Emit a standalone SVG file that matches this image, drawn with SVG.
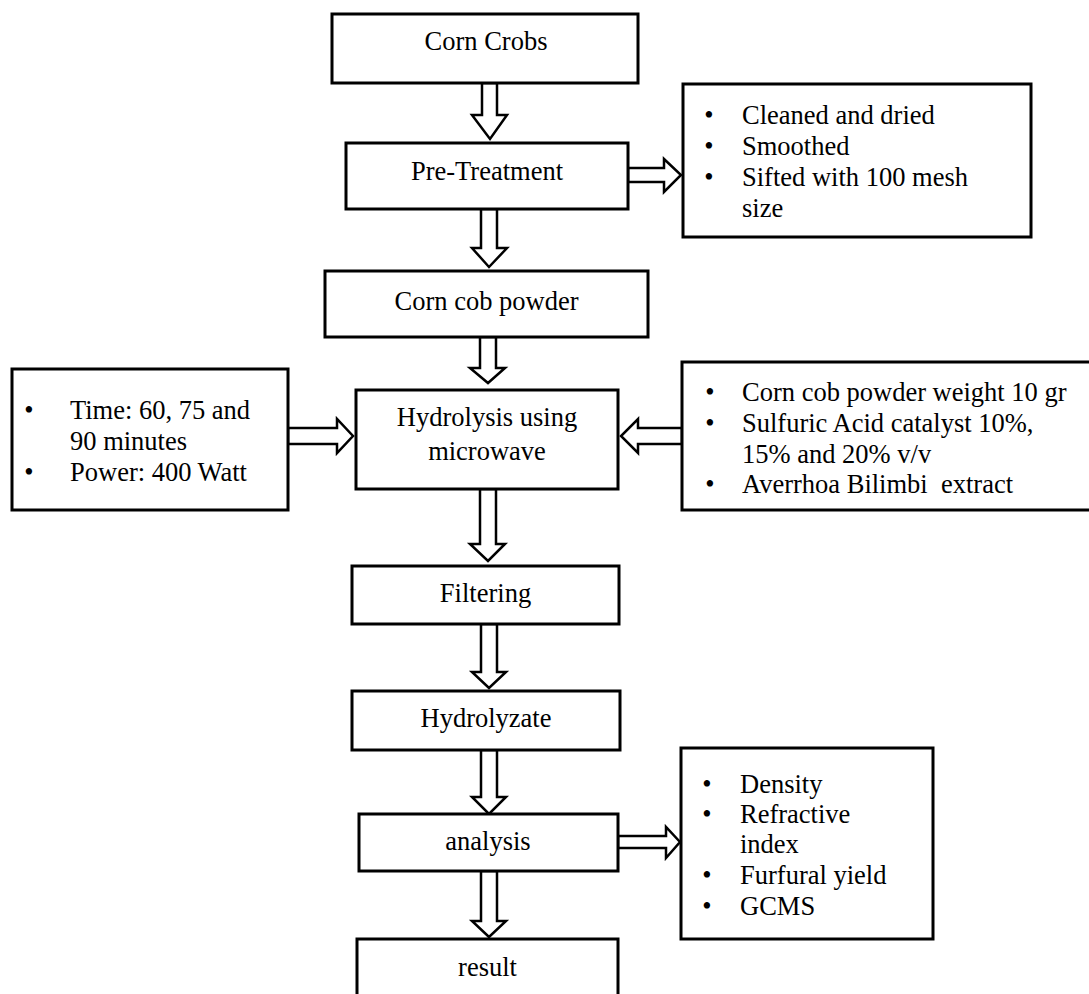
<svg xmlns="http://www.w3.org/2000/svg" width="1089" height="994" viewBox="0 0 1089 994">
<style>
.box{fill:#fff;stroke:#000;stroke-width:3}
.arr{fill:#fff;stroke:#000;stroke-width:2.5;stroke-linejoin:miter}
text{font-family:"Liberation Serif","Times New Roman",serif;font-size:26.5px;fill:#000}
.c{text-anchor:middle}
.b{text-anchor:middle}
</style>
<rect width="1089" height="994" fill="#fff"/>
<g id="connectors">
<polygon class="arr" points="482,83 497,83 497,115 507,115 490,139 472,115 482,115"/>
<polygon class="arr" points="481,209 497,209 497,248 507,248 489,267 472,248 481,248"/>
<polygon class="arr" points="480,337 496,337 496,368 505,368 488,383 470,368 480,368"/>
<polygon class="arr" points="480,489 496,489 496,544 505,544 488,561 470,544 480,544"/>
<polygon class="arr" points="481,624 497,624 497,672 506,672 489,688 472,672 481,672"/>
<polygon class="arr" points="481,750 497,750 497,797 506,797 489,814 472,797 481,797"/>
<polygon class="arr" points="481,871 497,871 497,921 506,921 489,937 472,921 481,921"/>
<polygon class="arr" points="628,168 664,168 664,159 681,175 664,192 664,182 628,182"/>
<polygon class="arr" points="288,428 337,428 337,419 353,436 337,453 337,444 288,444"/>
<polygon class="arr" points="682,428 638,428 638,419 621,436 638,453 638,444 682,444"/>
<polygon class="arr" points="618,836 666,836 666,827 680,842 666,858 666,848 618,848"/>
</g>
<g id="corn-crobs"><rect class="box" x="332" y="14" width="306" height="69"/><text class="c" x="486" y="50">Corn Crobs</text></g>
<g id="pre-treatment"><rect class="box" x="346" y="143" width="282" height="66"/><text class="c" x="487" y="180">Pre-Treatment</text></g>
<g id="pretreat-details"><rect class="box" x="683" y="84" width="348" height="153"/>
<text class="b" x="709" y="124">•</text><text x="742" y="124">Cleaned and dried</text>
<text class="b" x="709" y="155">•</text><text x="742" y="155">Smoothed</text>
<text class="b" x="709" y="186">•</text><text x="742" y="186">Sifted with 100 mesh</text>
<text x="742" y="217">size</text></g>
<g id="corn-cob-powder"><rect class="box" x="325" y="271" width="323" height="66"/><text class="c" x="486.5" y="310">Corn cob powder</text></g>
<g id="hydrolysis"><rect class="box" x="356" y="390" width="262" height="99"/><text class="c" x="487" y="426">Hydrolysis using</text><text class="c" x="487" y="460">microwave</text></g>
<g id="time-power"><rect class="box" x="12" y="369" width="276" height="141"/>
<text class="b" x="29" y="419" font-size="30">•</text><text x="70" y="419">Time: 60, 75 and</text>
<text x="70" y="450">90 minutes</text>
<text class="b" x="29" y="481" font-size="30">•</text><text x="70" y="481">Power: 400 Watt</text></g>
<g id="materials"><rect class="box" x="682" y="362" width="410" height="148"/>
<text class="b" x="710" y="401">•</text><text x="742" y="401">Corn cob powder weight 10 gr</text>
<text class="b" x="710" y="432">•</text><text x="742" y="432">Sulfuric Acid catalyst 10%,</text>
<text x="742" y="463">15% and 20% v/v</text>
<text class="b" x="710" y="493">•</text><text x="742" y="493" xml:space="preserve">Averrhoa Bilimbi  extract</text></g>
<g id="filtering"><rect class="box" x="352" y="566" width="267" height="58"/><text class="c" x="485.5" y="602">Filtering</text></g>
<g id="hydrolyzate"><rect class="box" x="352" y="691" width="268" height="59"/><text class="c" x="486" y="727">Hydrolyzate</text></g>
<g id="analysis"><rect class="box" x="359" y="814" width="259" height="57"/><text class="c" x="488" y="850">analysis</text></g>
<g id="analysis-details"><rect class="box" x="681" y="748" width="252" height="191"/>
<text class="b" x="707" y="793">•</text><text x="740" y="793">Density</text>
<text class="b" x="707" y="823">•</text><text x="740" y="823">Refractive</text>
<text x="740" y="853">index</text>
<text class="b" x="707" y="884">•</text><text x="740" y="884">Furfural yield</text>
<text class="b" x="707" y="915">•</text><text x="740" y="915">GCMS</text></g>
<g id="result"><rect class="box" x="357" y="939" width="261" height="70"/><text class="c" x="487.5" y="976">result</text></g>
</svg>
